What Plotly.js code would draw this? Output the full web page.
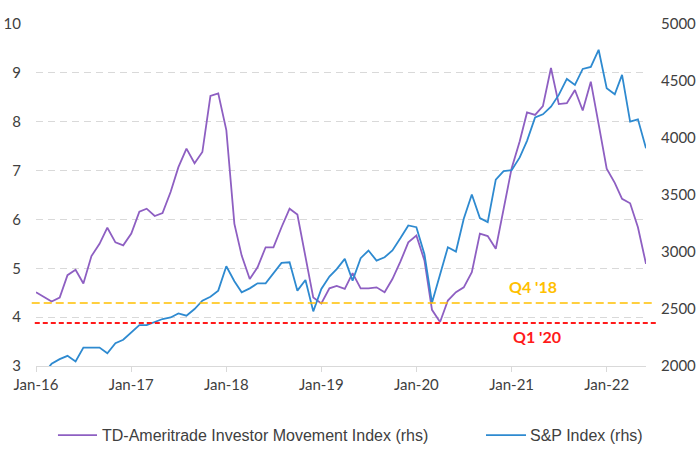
<!DOCTYPE html>
<html>
<head>
<meta charset="utf-8">
<script src="https://cdn.plot.ly/plotly-3.0.1.min.js"></script>
<style>
  html, body { margin: 0; padding: 0; background: #ffffff; }
  #chart { width: 700px; height: 469px; }
</style>
</head>
<body>
<div id="chart"></div>
<script>
// Monthly observations, Jan 2016 .. Jun 2022
const months = [
  "2016-01-01","2016-02-01","2016-03-01","2016-04-01","2016-05-01","2016-06-01","2016-07-01","2016-08-01","2016-09-01","2016-10-01","2016-11-01","2016-12-01",
  "2017-01-01","2017-02-01","2017-03-01","2017-04-01","2017-05-01","2017-06-01","2017-07-01","2017-08-01","2017-09-01","2017-10-01","2017-11-01","2017-12-01",
  "2018-01-01","2018-02-01","2018-03-01","2018-04-01","2018-05-01","2018-06-01","2018-07-01","2018-08-01","2018-09-01","2018-10-01","2018-11-01","2018-12-01",
  "2019-01-01","2019-02-01","2019-03-01","2019-04-01","2019-05-01","2019-06-01","2019-07-01","2019-08-01","2019-09-01","2019-10-01","2019-11-01","2019-12-01",
  "2020-01-01","2020-02-01","2020-03-01","2020-04-01","2020-05-01","2020-06-01","2020-07-01","2020-08-01","2020-09-01","2020-10-01","2020-11-01","2020-12-01",
  "2021-01-01","2021-02-01","2021-03-01","2021-04-01","2021-05-01","2021-06-01","2021-07-01","2021-08-01","2021-09-01","2021-10-01","2021-11-01","2021-12-01",
  "2022-01-01","2022-02-01","2022-03-01","2022-04-01","2022-05-01","2022-06-01"
];

// TD-Ameritrade Investor Movement Index (left scale)
const imx = [
  4.51, 4.42, 4.32, 4.40, 4.86, 4.97, 4.69, 5.25, 5.50, 5.83, 5.53, 5.47,
  5.71, 6.16, 6.22, 6.07, 6.13, 6.56, 7.07, 7.45, 7.15, 7.38, 8.53, 8.58,
  7.83, 5.91, 5.26, 4.78, 5.02, 5.43, 5.43, 5.84, 6.22, 6.10, 5.26, 4.40,
  4.28, 4.59, 4.64, 4.58, 4.90, 4.59, 4.59, 4.61, 4.51, 4.78, 5.14, 5.53,
  5.67, 5.16, 4.15, 3.90, 4.34, 4.51, 4.61, 4.92, 5.71, 5.66, 5.40, 6.25,
  7.05, 7.60, 8.19, 8.14, 8.32, 9.10, 8.36, 8.38, 8.65, 8.23, 8.82, 7.95,
  7.04, 6.75, 6.42, 6.33, 5.84, 5.09
];

// S&P 500 index (right scale)
const spx = [
  1940, 1935, 2020, 2060, 2089, 2039, 2162, 2162, 2162, 2112, 2200, 2230,
  2294, 2359, 2359, 2388, 2412, 2426, 2461, 2441, 2500, 2573, 2608, 2661,
  2875, 2743, 2646, 2681, 2725, 2725, 2817, 2905, 2910, 2661, 2755, 2479,
  2676, 2784, 2850, 2940, 2749, 2946, 3013, 2925, 2954, 3013, 3122, 3233,
  3218, 2980, 2555, 2808, 3042, 3004, 3292, 3504, 3298, 3262, 3635, 3709,
  3717, 3830, 3975, 4180, 4208, 4275, 4378, 4518, 4466, 4606, 4623, 4774,
  4437, 4384, 4554, 4143, 4164, 3909
];

const seriesNames = ["TD-Ameritrade Investor Movement Index (rhs)", "S&P Index (rhs)"];
const seriesColors = ["#8E5FC2", "#2E8AD0"];
const xTicks = ["2016-01-01","2017-01-01","2018-01-01","2019-01-01","2020-01-01","2021-01-01","2022-01-01"];

// Reference levels (left scale)
const refLevels = [4.29, 3.88];
const refLabels = ["Q4 '18", "Q1 '20"];
const refLabelPos = [4.62, 3.60];
const refColors = ["#FFC000", "#FF1A1A"];

const FONT = "Lato, 'Liberation Sans', sans-serif";
const LEGFONT = "'Liberation Sans', Arial, sans-serif";
const TXT = "#404040";

const traces = [
  {
    x: months, y: imx, name: seriesNames[0], type: "scatter", mode: "lines",
    line: { color: seriesColors[0], width: 1.8 }, yaxis: "y", showlegend: false
  },
  {
    x: months, y: spx, name: seriesNames[1], type: "scatter", mode: "lines",
    line: { color: seriesColors[1], width: 1.8 }, yaxis: "y2", showlegend: false
  }
];

// legend built from paper-positioned samples and labels
const legY = -0.202;
const legendShapes = [
  { type: "line", xref: "paper", yref: "paper", x0: 0.036, x1: 0.1, y0: legY, y1: legY,
    line: { color: seriesColors[0], width: 1.8 } },
  { type: "line", xref: "paper", yref: "paper", x0: 0.7377, x1: 0.8033, y0: legY, y1: legY,
    line: { color: seriesColors[1], width: 1.8 } }
];
const legendLabels = [
  { xref: "paper", yref: "paper", x: 0.1049, y: legY, xanchor: "left", yanchor: "middle",
    text: seriesNames[0], showarrow: false, font: { family: LEGFONT, size: 16, color: TXT } },
  { xref: "paper", yref: "paper", x: 0.8066, y: legY, xanchor: "left", yanchor: "middle",
    text: seriesNames[1], showarrow: false, font: { family: LEGFONT, size: 16, color: TXT } }
];

const layout = {
  width: 700, height: 469,
  margin: { l: 36, r: 54, t: 24, b: 103 },
  paper_bgcolor: "#ffffff", plot_bgcolor: "#ffffff",
  font: { family: FONT, size: 15, color: TXT },
  showlegend: false,
  xaxis: {
    type: "date", range: ["2016-01-01", "2022-06-01"],
    tickvals: xTicks, tickformat: "%b-%y",
    ticks: "outside", ticklen: 5, tickcolor: "#D9D9D9", tickwidth: 1,
    showline: true, linecolor: "#D9D9D9", linewidth: 1,
    showgrid: false, zeroline: false,
    tickfont: { family: FONT, size: 15, color: TXT }
  },
  yaxis: {
    range: [3, 10], dtick: 1, tick0: 3,
    showgrid: true, gridcolor: "#D9D9D9", gridwidth: 1, griddash: "7px,5px",
    zeroline: false, showline: false, ticks: "",
    ticklabelstandoff: 14,
    tickfont: { family: FONT, size: 15, color: TXT }
  },
  yaxis2: {
    range: [2000, 5000], dtick: 500, tick0: 2000,
    overlaying: "y", side: "right",
    showgrid: false, zeroline: false, showline: false, ticks: "",
    ticklabelstandoff: 14,
    tickfont: { family: FONT, size: 15, color: TXT }
  },
  shapes: [
    { type: "line", xref: "paper", yref: "y", x0: -0.007, x1: 1.015, y0: refLevels[0], y1: refLevels[0],
      line: { color: refColors[0], width: 1.6, dash: "8px,4px" }, layer: "above" },
    { type: "line", xref: "paper", yref: "y", x0: -0.002, x1: 1.02, y0: refLevels[1], y1: refLevels[1],
      line: { color: refColors[1], width: 2, dash: "5px,3px" }, layer: "above" }
  ].concat(legendShapes),
  annotations: [
    { xref: "paper", yref: "y", x: 0.815, y: refLabelPos[0], xanchor: "center", yanchor: "middle",
      text: refLabels[0], showarrow: false,
      font: { family: FONT, size: 16, color: refColors[0], weight: "bold" } },
    { xref: "paper", yref: "y", x: 0.822, y: refLabelPos[1], xanchor: "center", yanchor: "middle",
      text: refLabels[1], showarrow: false,
      font: { family: FONT, size: 16, color: refColors[1], weight: "bold" } }
  ].concat(legendLabels)
};

Plotly.newPlot("chart", traces, layout, { displayModeBar: false, staticPlot: true });
</script>
</body>
</html>
